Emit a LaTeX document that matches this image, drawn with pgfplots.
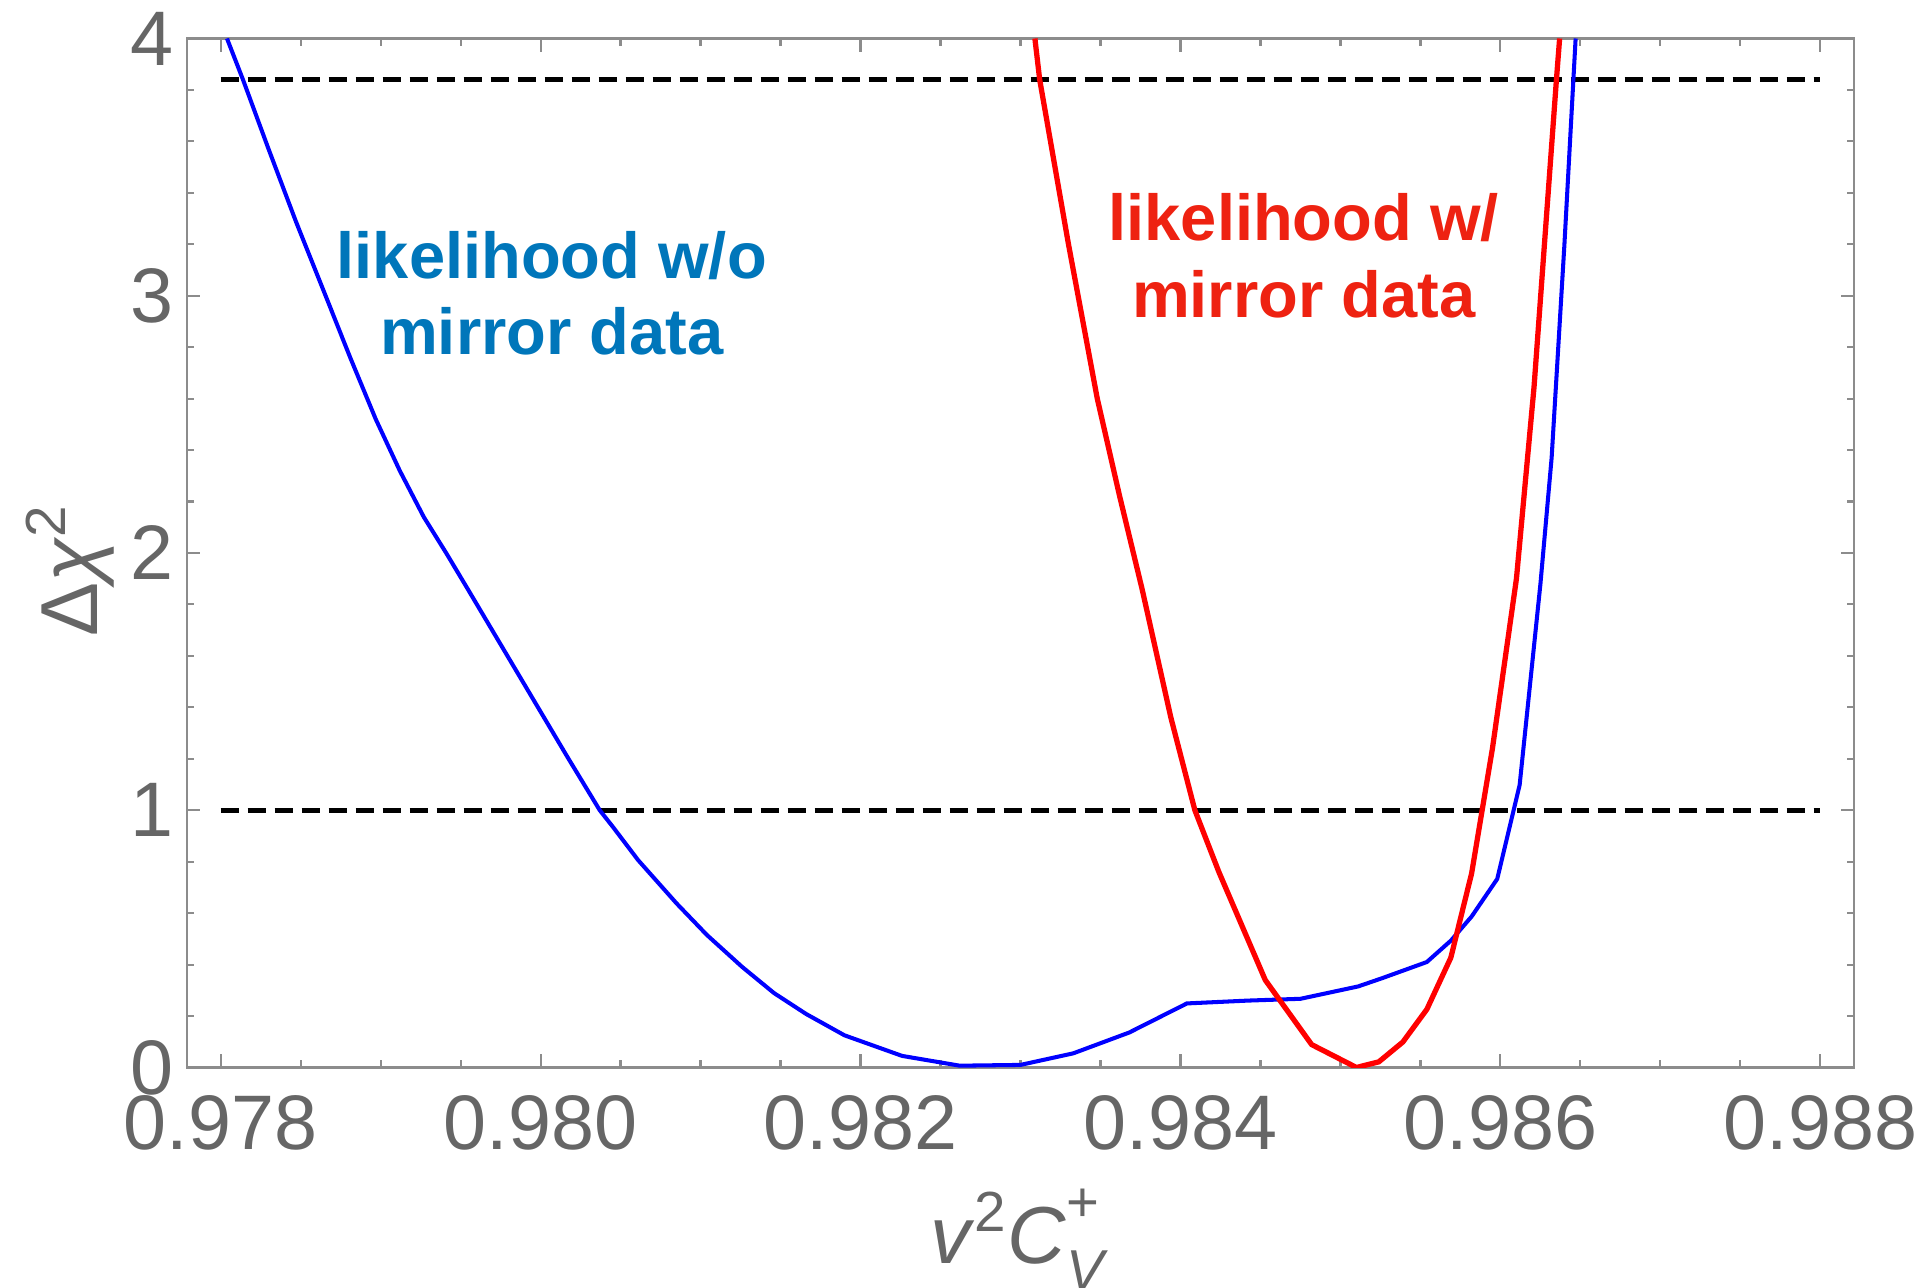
\documentclass[border=0pt]{standalone}
\usepackage{fontspec}
\setmainfont{Liberation Sans}
\usepackage{pgfplots}
\pgfplotsset{compat=1.18}
\definecolor{framegray}{RGB}{140,140,140}
\definecolor{labelgray}{RGB}{102,102,102}
\definecolor{textblue}{RGB}{0,118,186}
\definecolor{textred}{RGB}{238,34,17}
\begin{document}
\begin{tikzpicture}
\useasboundingbox (-1.87,-2.205) rectangle (17.37,10.675);
\begin{axis}[
  at={(0,0)}, anchor=south west,
  scale only axis,
  width=16.67cm, height=10.29cm,
  xmin=0.97779, xmax=0.98821,
  ymin=0, ymax=4,
  axis line style={framegray, line width=0.6pt},
  every tick/.style={framegray, line width=0.6pt},
  tick align=inside,
  major tick length=0.13cm,
  minor tick length=0.07cm,
  xtick={0.978,0.980,0.982,0.984,0.986,0.988},
  xticklabels={0.978,0.980,0.982,0.984,0.986,0.988},
  minor x tick num=3,
  ytick={0,1,2,3,4},
  yticklabels={0,1,2,3,4},
  minor y tick num=4,
  tick label style={labelgray, font=\fontsize{22}{26}\selectfont, inner sep=0pt},
  xticklabel style={yshift=-0.27cm},
  yticklabel style={xshift=-0.13cm},
  xlabel={\textit{v}\textsuperscript{2}\textit{C}\makebox[0pt][l]{\raisebox{0.52em}{\fontsize{16}{16}\selectfont +}}\raisebox{-0.32em}{\fontsize{16}{16}\selectfont\itshape V}\hspace{0.3em}},
  ylabel={Δ\textit{χ}\textsuperscript{2}},
  label style={labelgray, font=\fontsize{23}{27}\selectfont},
  xlabel style={at={(axis description cs:0.498,-0.167)}, anchor=center},
  ylabel style={at={(axis description cs:-0.070,0.483)}, anchor=center},
  clip=true,
]
% dashed reference levels
\addplot[black, line width=1.5pt, dash pattern=on 0.18cm off 0.09cm] coordinates {(0.978,3.84) (0.988,3.84)};
\addplot[black, line width=1.5pt, dash pattern=on 0.18cm off 0.09cm] coordinates {(0.978,1) (0.988,1)};
% likelihood w/o mirror data
\addplot[blue, line width=1.15pt] coordinates {
  (0.97804,4.00) (0.97814,3.84) (0.97830,3.57) (0.97847,3.29)
  (0.97865,3.01) (0.97881,2.76) (0.97897,2.52) (0.97912,2.32)
  (0.97927,2.14) (0.97941,2.00) (0.97954,1.865) (0.97975,1.645)
  (0.97996,1.425) (0.98017,1.205) (0.98037,1.00) (0.98045,0.937)
  (0.98061,0.806) (0.98085,0.638) (0.98104,0.515) (0.98126,0.391)
  (0.98146,0.289) (0.98166,0.208) (0.98190,0.125) (0.98226,0.045)
  (0.98262,0.007) (0.98300,0.010) (0.98333,0.055) (0.98368,0.136)
  (0.98404,0.249) (0.98442,0.260) (0.98475,0.267) (0.98511,0.315)
  (0.98526,0.347) (0.98554,0.410) (0.98569,0.493) (0.98582,0.587)
  (0.98598,0.733) (0.98612,1.098) (0.98625,1.88) (0.98632,2.37)
  (0.98640,3.20) (0.98647,4.00)
};
% likelihood w/ mirror data
\addplot[red, line width=1.5pt] coordinates {
  (0.98309,4.00) (0.98312,3.84) (0.98330,3.20) (0.98348,2.60)
  (0.98362,2.22) (0.98376,1.86) (0.98394,1.36) (0.98409,1.00)
  (0.98424,0.76) (0.98453,0.34) (0.98482,0.089) (0.98510,0.0)
  (0.98524,0.022) (0.98539,0.099) (0.98554,0.226) (0.98569,0.427)
  (0.98582,0.755) (0.98595,1.24) (0.98610,1.90) (0.98621,2.645)
  (0.98635,3.84) (0.98637,4.00)
};
\node[anchor=base, textblue, font=\fontsize{18.5}{22}\selectfont\bfseries] at (axis cs:0.98007,3.068) {likelihood w/o};
\node[anchor=base, textblue, font=\fontsize{18.5}{22}\selectfont\bfseries] at (axis cs:0.98007,2.772) {mirror data};
\node[anchor=base, textred, font=\fontsize{18.5}{22}\selectfont\bfseries] at (axis cs:0.98477,3.216) {likelihood w/};
\node[anchor=base, textred, font=\fontsize{18.5}{22}\selectfont\bfseries] at (axis cs:0.98477,2.915) {mirror data};
\end{axis}
\end{tikzpicture}
\end{document}
